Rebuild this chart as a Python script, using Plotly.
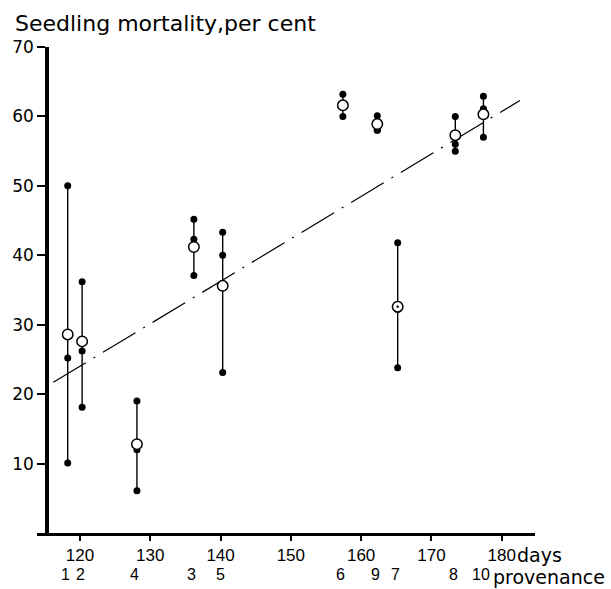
import plotly.graph_objects as go

# ---- data ----
provenance = ["1", "2", "4", "3", "5", "6", "9", "7", "8", "10"]
days = [118.25, 120.3, 128.1, 136.2, 140.3, 157.4, 162.3, 165.2, 173.4, 177.4]
rep_high = [50.0, 36.2, 19.0, 45.2, 43.3, 63.2, 60.1, 41.8, 60.0, 62.9]
rep_mid = [25.2, 26.2, 12.0, 42.3, 40.0, 61.7, 58.0, 32.2, 56.0, 61.1]
rep_low = [10.1, 18.1, 6.1, 37.1, 23.1, 60.0, 58.0, 23.8, 55.0, 57.0]
mean_mortality = [28.6, 27.6, 12.8, 41.2, 35.6, 61.6, 58.9, 32.6, 57.3, 60.3]

trend_days = [116.2, 182.6]
trend_values = [21.7, 62.3]

x_tick_values = [120, 130, 140, 150, 160, 170, 180]
x_tick_labels = ["120", "130", "140", "150", "160", "170", "180"]
y_tick_values = [10, 20, 30, 40, 50, 60, 70]
y_tick_labels = ["10", "20", "30", "40", "50", "60", "70"]

title_text = "Seedling mortality,per cent"
days_text = "days"
provenance_text = "provenance"

# ---- figure ----
fig = go.Figure()

# regression line (dash-dot)
fig.add_trace(go.Scatter(
    x=trend_days, y=trend_values, mode="lines",
    line=dict(color="black", width=1.2, dash="38px,9px,2px,9px"),
    hoverinfo="skip", showlegend=False))

# vertical range lines
vx, vy = [], []
for d, a, b, c in zip(days, rep_high, rep_mid, rep_low):
    vals = [a, b, c]
    vx += [d, d, None]
    vy += [min(vals), max(vals), None]
fig.add_trace(go.Scatter(
    x=vx, y=vy, mode="lines",
    line=dict(color="black", width=1.4),
    hoverinfo="skip", showlegend=False))

# replicate dots
for reps in (rep_high, rep_mid, rep_low):
    fig.add_trace(go.Scatter(
        x=days, y=reps, mode="markers",
        marker=dict(color="black", size=7, line=dict(width=0)),
        cliponaxis=False, showlegend=False))

# means (open circles)
symbols = ["circle-dot" if p == "7" else "circle" for p in provenance]
fig.add_trace(go.Scatter(
    x=days, y=mean_mortality, mode="markers",
    marker=dict(color="white", size=10.5, symbol=symbols,
                line=dict(color="black", width=1.5)),
    cliponaxis=False, showlegend=False))

annotations = []
for p, d in zip(provenance, days):
    annotations.append(dict(
        x=d, xref="x", y=0, yref="paper", text=p, showarrow=False,
        xanchor="center", yanchor="middle", yshift=-41, xshift=-2,
        font=dict(family="Liberation Sans", size=16, color="black")))
annotations.append(dict(
    x=0.959, xref="paper", y=0, yref="paper", text=days_text, showarrow=False,
    xanchor="left", yanchor="middle", yshift=-22,
    font=dict(family="DejaVu Sans", size=19, color="black")))
annotations.append(dict(
    x=0.912, xref="paper", y=0, yref="paper", text=provenance_text, showarrow=False,
    xanchor="left", yanchor="middle", yshift=-44,
    font=dict(family="DejaVu Sans", size=19, color="black")))
annotations.append(dict(
    x=-0.049, xref="paper", y=1, yref="paper", text=title_text, showarrow=False,
    xanchor="left", yanchor="middle", yshift=24,
    font=dict(family="DejaVu Sans", size=22, color="black")))

fig.update_layout(
    width=611, height=589,
    margin=dict(l=37, r=76, t=47, b=56, pad=0),
    paper_bgcolor="white", plot_bgcolor="white",
    showlegend=False,
    annotations=annotations,
    xaxis=dict(
        range=[113.88, 184.74], showgrid=False, zeroline=False,
        showline=True, linecolor="black", linewidth=2.5,
        ticks="outside", ticklen=5, tickwidth=1.5, tickcolor="black",
        tickvals=x_tick_values, ticktext=x_tick_labels,
        tickfont=dict(family="Liberation Sans", size=17, color="black"),
        fixedrange=True),
    yaxis=dict(
        range=[0, 70], showgrid=False, zeroline=False,
        anchor="free", position=0.02,
        showline=True, linecolor="black", linewidth=3.5,
        ticks="outside", ticklen=8, tickwidth=1.5, tickcolor="black",
        tickvals=y_tick_values, ticktext=y_tick_labels,
        tickfont=dict(family="DejaVu Sans", size=17, color="black"),
        fixedrange=True),
)

fig.write_html(
    "out.html",
    config={"displayModeBar": False},
    post_script="document.body.style.margin='0';document.body.style.overflow='hidden';",
)
